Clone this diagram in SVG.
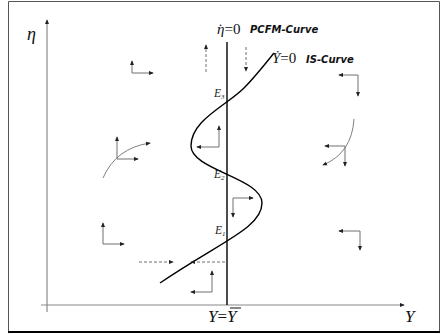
<svg xmlns="http://www.w3.org/2000/svg" width="442" height="334" viewBox="0 0 442 334">
<defs>
<style>
.ax{stroke:#8a8a8a;stroke-width:1.2;fill:none}
.ar{stroke:#707070;stroke-width:1;fill:none;marker-end:url(#ah)}
.dash{stroke-dasharray:3,2}
.arc{stroke:#707070;stroke-width:0.9;fill:none}
.crv{stroke:#000;stroke-width:1.4;fill:none}
.ser{font-family:"Liberation Serif","DejaVu Serif",serif;fill:#111}
.it{font-style:italic}
.bi{font-family:"DejaVu Sans","Liberation Sans",sans-serif;font-weight:bold;font-style:italic;font-size:10px;fill:#111}
.lab{font-family:"Liberation Serif",serif;font-style:italic;font-size:11.5px;fill:#222}
.sub{font-size:7px}
</style>
<marker id="ah" viewBox="0 0 6 6" refX="5" refY="3" markerWidth="5" markerHeight="5" orient="auto" markerUnits="userSpaceOnUse">
<path d="M0,0.5 L6,3 L0,5.5 Z" fill="#222"/>
</marker>
</defs>
<rect x="0" y="0" width="442" height="334" fill="#fff"/>
<g id="frame">
<path d="M8.5,332 L8.5,1.5 L439.5,1.5 L439.5,332" fill="none" stroke="#555" stroke-width="1"/>
<line x1="8" y1="332" x2="440" y2="332" stroke="#000" stroke-width="2"/>
</g>
<g id="axes">
<line class="ax" x1="47" y1="312" x2="47" y2="20" marker-end="url(#ah)"/>
<line class="ax" x1="41" y1="305" x2="404" y2="305" marker-end="url(#ah)"/>
<text class="ser it" x="27" y="40" font-size="18">η</text>
<text class="ser it" x="405" y="322" font-size="17">Y</text>
</g>
<g id="pcfm">
<line x1="227" y1="42" x2="227" y2="305" stroke="#000" stroke-width="1.4"/>
<text class="ser" x="217" y="34" font-size="15"><tspan class="it">η</tspan><tspan dx="-6.5">˙</tspan><tspan dx="1.5">=0</tspan></text>
<text class="bi" x="250" y="33">PCFM-Curve</text>
<text class="ser" x="208" y="322" font-size="17"><tspan class="it">Y</tspan>=<tspan class="it">Y</tspan></text>
<line x1="230" y1="308" x2="241" y2="308" stroke="#111" stroke-width="1"/>
</g>
<g id="is">
<path class="crv" d="M274,53 C262,68 252,80 244,88 C226,106 191,120 191,146 C191,170 262,178 262,203 C262,228 220,242 160,283"/>
<text class="ser" x="272" y="63" font-size="15"><tspan class="it">Ẏ</tspan>=0</text>
<text class="bi" x="306" y="63">IS-Curve</text>
</g>
<g id="E3"><text class="lab" x="214" y="97">E<tspan class="sub" dy="2">3</tspan></text></g>
<g id="E2"><text class="lab" x="214" y="178">E<tspan class="sub" dy="2">2</tspan></text></g>
<g id="E1"><text class="lab" x="215" y="234">E<tspan class="sub" dy="2">1</tspan></text></g>
<g id="connectors">
<line class="ar" x1="132" y1="73" x2="132" y2="61"/>
<line class="ar" x1="132" y1="73" x2="153" y2="73"/>
<line class="ar dash" x1="206" y1="72" x2="206" y2="45"/>
<line class="ar dash" x1="246" y1="47" x2="246" y2="71"/>
<line class="ar" x1="358" y1="75" x2="339" y2="75"/>
<line class="ar" x1="358" y1="75" x2="358" y2="96"/>
<path class="arc" d="M103,178 Q116,148 150,143" marker-end="url(#ah)"/>
<line class="ar" x1="117" y1="159" x2="117" y2="137"/>
<line class="ar" x1="117" y1="159" x2="138" y2="159"/>
<path class="arc" d="M354,119 Q352,153 323,165" marker-end="url(#ah)"/>
<line class="ar" x1="345" y1="146" x2="325" y2="146"/>
<line class="ar" x1="345" y1="146" x2="345" y2="166"/>
<line class="ar" x1="219" y1="147" x2="219" y2="126"/>
<line class="ar" x1="219" y1="147" x2="197" y2="147"/>
<line class="ar" x1="233" y1="198" x2="253" y2="198"/>
<line class="ar" x1="233" y1="198" x2="233" y2="217"/>
<line class="ar" x1="103" y1="244" x2="103" y2="223"/>
<line class="ar" x1="103" y1="244" x2="124" y2="244"/>
<line class="ar dash" x1="139" y1="262" x2="173" y2="262"/>
<line class="ar dash" x1="225" y1="262" x2="191" y2="262"/>
<line class="ar" x1="212" y1="292" x2="212" y2="271"/>
<line class="ar" x1="212" y1="292" x2="191" y2="292"/>
<line class="ar" x1="360" y1="231" x2="339" y2="231"/>
<line class="ar" x1="360" y1="231" x2="360" y2="250"/>
</g>
</svg>
